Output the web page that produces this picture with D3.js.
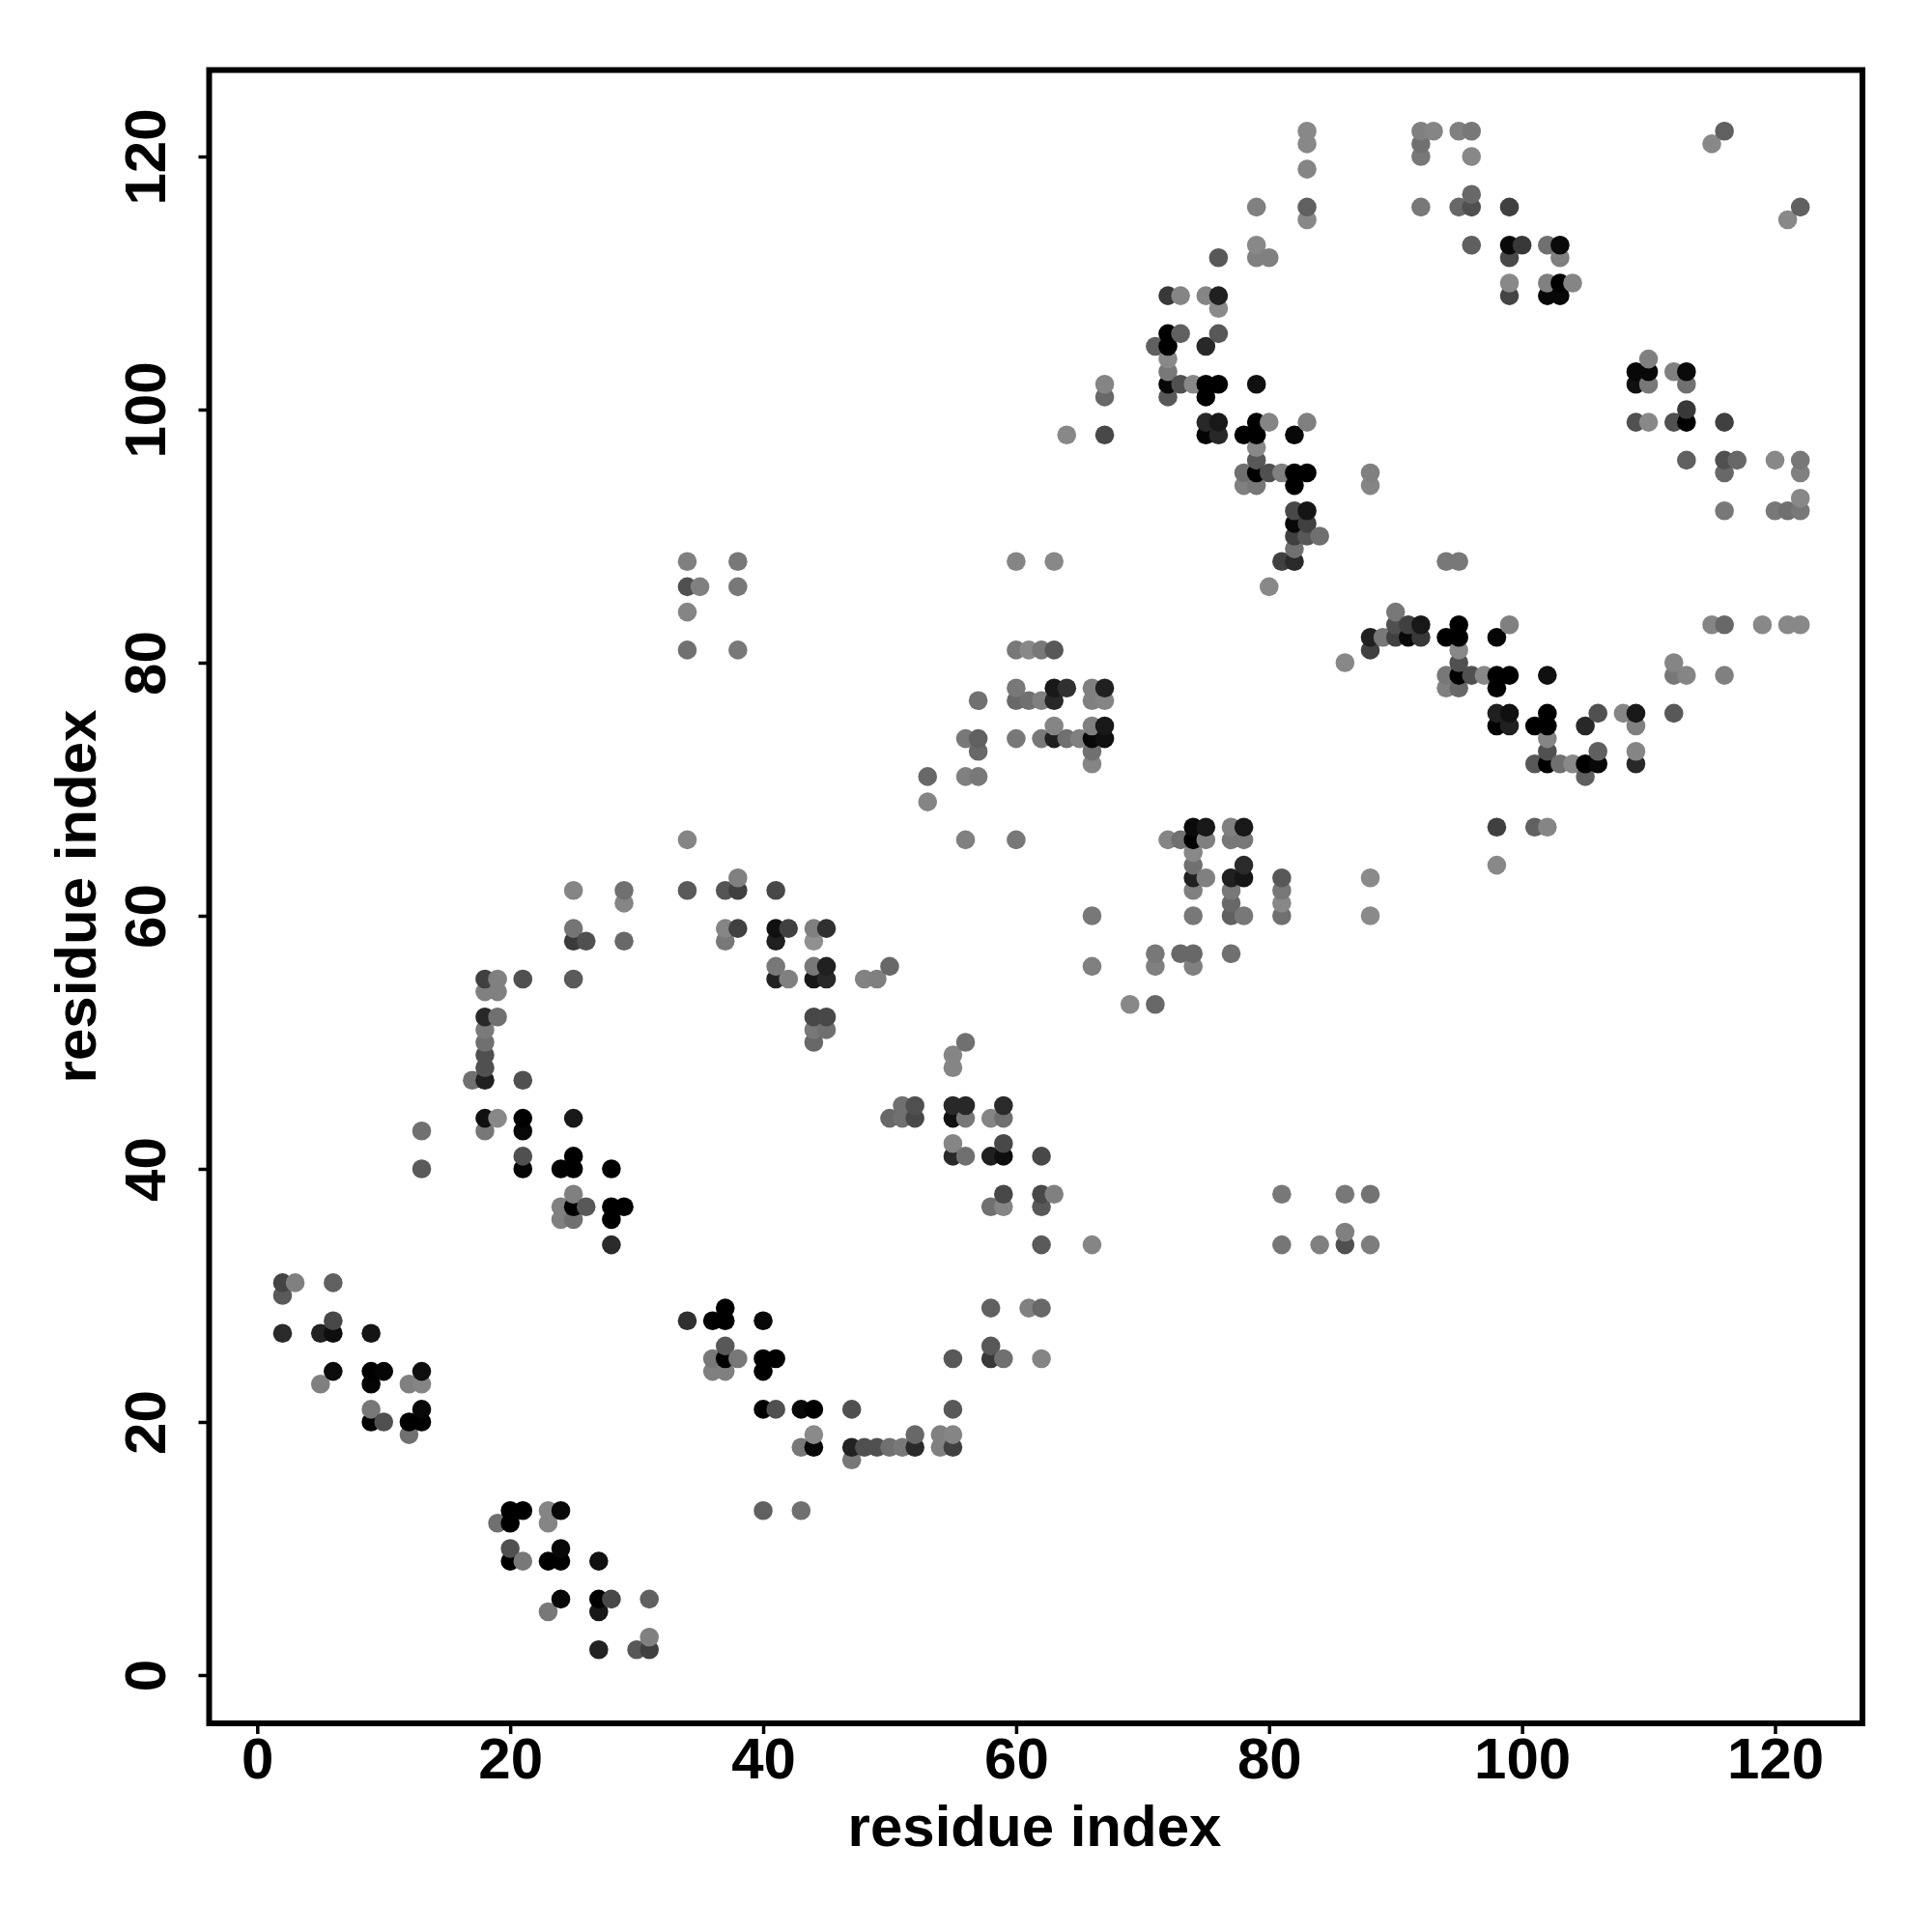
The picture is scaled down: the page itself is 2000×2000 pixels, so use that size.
<!DOCTYPE html>
<html>
<head>
<meta charset="utf-8">
<script src="https://cdn.jsdelivr.net/npm/d3@7"></script>
<style>html,body{margin:0;padding:0;background:#fff}svg{display:block}</style>
</head>
<body>
<svg id="chart" width="2000" height="2000"></svg>
<script>
const residueX = [
2,3,6,2,6,2,5,6,9,6, 5,9,10,9,13,12,13,9,13,9, 10,12,13,12,13,21,21,24,25,25,
28,25,24,25,26,24,25,28,29,28, 28,34,36,37,37,40,37,36,37,38, 36,37,40,41,40,40,41,20,21,20,
19,23,24,23,20,20,21,24,23,24, 27,24,23,27,28,27,31,31,27,30, 31,40,43,44,45,44,45,44,56,55,
55,51,52,50,51,52,55,56,55,56, 58,59,59,55,55,56,58,59,59,62, 59,58,59,62,63,62,62,66,58,61,
62,58,58,59,55,62,55,47,43,44, 44,43,44,47,48,49,50,51,52,52, 54,55,54,55,47,34,25,29,29,34,
37,38,38,41,25,25,26,29,37,38, 37,41,42,41,44,45,44,41,41,42, 44,45,44,45,48,49,50,18,19,18,
19,21,25,18,19,18,18,18,18,18, 17,21,18,19,18,21,21,25,13, 34,38,34,35,38,34,34,38,
81,86,88,81,84,86,86,88, 60,63,80,81,82,82,82,83,84,60, 61,62,63,60,63,64,66,67,57,60,
61,62,63,66,67,63,66,67,56,57, 60,62,63,64,65,66,67,57,66,66, 53,56,57,53,56,60,74,75,77,78,
72,73,74,75,77,78,74,74,78,74, 75,77,78,81,81,81,81,74,77,77, 77,78,74,66,71,73,74,77,71,74,
66,69,71,86, 83,83,83,79,83,83,92,93,95,96, 92,92,96,92,95,96,96,99,96,99,
100,99,102,79,79,80,76,72,73,75, 76,76,99,99,72,73,76,71,72,75, 72,72,67,67,72,73,74,75,76,75,
72,79,75,76,75,76,79,80,78,79, 82,83,64,67,79,79,78,79,80,81, 82,83,78,79,82,88,88,82,83,82,
83,94,95, 90,90,91,92,88,89,90,91,92,88, 95,94,95,95,95,94,95,96,97,98,
99,94,95,98,99,98,102,98,99,98, 99,101,102,102,102,102,101,103,104,105, 102,106,106,105,105,106,108,109,109,109,
109,112,112,112,113,116,115,116,119,121, 122,98,101,102,98,88,88,
116,115,122,121,103,103,102,103,104,102, 103,110,109,110,109,110,112,113,113,109,
110,112,113,113,116,113,116,117,116,120, 122,122,122,116,120,121,122
];
const residueY = [
31,31,31,30,28,27,27,27,27,24, 23,24,24,23,24,23,23,21,21,20, 20,20,20,19,40,40,41,40,40,41,
40,38,37,37,37,36,36,37,37,36, 34,28,28,28,29,28,26,25,25,25, 24,24,25,25,24,21,21,13,13,12,
12,13,13,12,10,9,9,10,9,9, 9,6,5,6,6,5,6,3,2,2, 2,13,13,52,52,51,51,50,50,49,
48,45,45,44,44,44,45,45,44,44, 44,44,45,42,41,41,41,41,42,41, 38,37,37,38,38,37,34,34,29,29,
29,26,25,25,25,25,21,21,21,21, 19,18,18,18,18,18,18,18,18,19, 19,19,18,18,17,66,62,62,61,62,
62,62,63,62,59,58,58,58,59,59, 58,59,59,58,59,59,58,56,55,55, 56,56,55,55,55,55,56,55,55,54,
54,55,55,52,52,51,50,49,48,47, 47,47,44,44,43,44,43,44,43, 88,88,86,86,86,84,81,81,
38,38,38,34,34,35,34,34, 88,88,86,88,88,89,90,90,90,81, 81,81,81,78,78,78,78,78,77,77,
77,77,77,77,77,75,75,75,74,74, 74,74,74,74,74,74,74,73,73,72, 71,71,71,69,66,66,67,67,67,67,
66,66,66,66,66,66,65,64,64,63, 63,63,63,63,62,61,60,62,62,61, 60,60,60,60,57,57,57,57,56,56,
56,53,53,80, 122,121,119,116,116,115,122,122,122,122, 121,120,120,116,116,116,117,116,113,113,
113,112,113,113,112,112,112,109,109,109, 109,108,110,109,106,106,106,105,105,105, 104,103,102,101,102,102,102,102,102,101,
101,102,99,99,98,98,99,99,98,98, 98,99,98,98,97,96,95,95,95,95, 95,95,94,94,94,95,94,92,92,91,
91,88,88, 84,83,83,83,82,82,82,82,82,81, 83,82,82,81,80,79,79,79,79,79,
79,78,78,78,83,82,79,76,76,75, 75,75,75,76,74,73,72,72,72,72, 72,72,73,71,75,76,76,76,75,73,
72,76,80,79,79,79,83,83,83,83, 83,67,67,67,64,63,60,
122,121,116,115,113,112,110,110,110,109, 109,104,103,103,102,102,103,103,102,99,
99,99,99,100,99,96,96,96,95,96, 96,95,93,92,92,92,92
];
const grayLevel = [
68,128,96,90,72,42,34,14,20,12, 128,0,5,5,14,128,133,120,8,0, 80,0,0,112,90,5,80,0,0,0,
0,128,128,0,88,128,112,0,0,0, 42,48,0,0,0,8,88,120,0,120, 128,128,0,0,0,0,80,0,0,0,
112,133,8,133,80,0,120,8,0,0, 16,8,120,0,72,24,96,128,34,88, 64,96,112,72,72,120,112,104,112,133,
133,112,80,104,112,72,40,40,16,120, 133,112,42,133,40,112,32,14,72,72, 72,112,133,72,128,88,90,133,96,128,
104,88,56,112,88,133,88,80,8,0, 138,120,8,34,80,80,112,120,42,104, 128,133,128,64,120,133,133,112,133,90,
85,64,128,72,117,58,80,104,133,64, 120,16,64,32,128,48,144,120,34,128, 120,32,24,40,130,128,104,64,128,128,
128,80,90,40,112,122,112,80,80,32, 112,80,16,136,120,0,8,24,112, 128,120,80,128,120,133,112,120,
120,120,115,118,128,128,80,125, 133,136,136,64,42,112,64,88,112,120, 136,120,88,120,24,48,128,32,112,104,
112,128,40,128,133,133,128,24,120,96, 120,120,32,112,128,8,16,104,112,133, 104,128,120,133,128,120,10,24,128,24,
133,112,0,128,120,120,136,112,42,32, 128,32,21,88,120,136,112,128,120,104, 96,120,120,120,120,104,104,112,128,128,
128,136,104,136, 136,136,133,128,96,136,128,133,128,120, 112,120,136,120,104,80,104,64,96,8,
56,72,112,136,128,128,88,56,133,133, 32,138,136,68,0,96,88,96,0,40, 136,120,133,104,8,80,136,0,0,0,
88,16,40,24,5,40,0,133,0,0, 8,128,136,72,136,88,112,0,80,128, 0,0,128,120,0,128,133,72,21,8,
64,120,120, 120,80,64,24,32,120,64,8,56,64, 0,0,0,136,80,120,0,80,136,0,
0,128,104,0,128,5,16,32,16,0, 32,0,0,0,133,80,88,112,136,0, 0,8,96,96,40,80,133,24,128,133,
40,88,133,120,133,128,133,104,136,136, 136,64,96,133,136,138,138,
96,136,96,136,10,128,128,0,133,8, 8,128,8,8,16,120,128,10,112,80,
136,80,0,56,64,96,80,104,104,136, 120,128,136,120,120,112,120
];
const xTickValues = [0, 20, 40, 60, 80, 100, 120];
const yTickValues = [0, 20, 40, 60, 80, 100, 120];
const xTitle = "residue index";
const yTitle = "residue index";

const FONT = '"Liberation Sans", Arial, Helvetica, sans-serif';
const box = {left: 216.5, right: 1928, top: 72.5, bottom: 1784};
const x = d3.scaleLinear().domain([0, 120]).range([266.3, 1837.5]);
const y = d3.scaleLinear().domain([0, 120]).range([1734, 162]);
const shade = d3.scaleLinear().domain([0, 255]).range(["#000000", "#ffffff"]);

const contacts = residueX
  .map((v, i) => ({x: v, y: residueY[i], g: grayLevel[i]}))
  .sort((a, b) => d3.ascending(a.x, b.x) || d3.ascending(a.y, b.y));

const svg = d3.select("#chart");
svg.append("rect").attr("width", 2000).attr("height", 2000).attr("fill", "#fff");

svg.append("g").selectAll("circle").data(contacts).join("circle")
  .attr("cx", d => x(d.x))
  .attr("cy", d => y(d.y))
  .attr("r", 9.8)
  .attr("fill", d => shade(d.g));

svg.append("rect")
  .attr("x", box.left).attr("y", box.top)
  .attr("width", box.right - box.left).attr("height", box.bottom - box.top)
  .attr("fill", "none").attr("stroke", "#000").attr("stroke-width", 6);

const gx = svg.append("g").attr("transform", `translate(0,${box.bottom})`)
  .call(d3.axisBottom(x).tickValues(xTickValues).tickSize(11).tickPadding(11).tickFormat(d3.format("d")));
const gy = svg.append("g").attr("transform", `translate(${box.left},0)`)
  .call(d3.axisLeft(y).tickValues(yTickValues).tickSize(11).tickPadding(0).tickFormat(d3.format("d")));

[gx, gy].forEach(g => {
  g.select(".domain").remove();
  g.selectAll("line").attr("stroke", "#000").attr("stroke-width", 3.5);
  g.selectAll("text").attr("font-family", FONT).attr("font-weight", 700)
    .attr("font-size", 60).attr("fill", "#000");
});
gx.selectAll("text").attr("dy", null).attr("y", null)
  .attr("dominant-baseline", "auto").attr("transform", "translate(0,57)").attr("text-anchor", "middle");
gy.selectAll("text").attr("x", null).attr("dy", null)
  .attr("text-anchor", "middle").attr("transform", "translate(-46,0) rotate(-90)");

svg.append("text").text(xTitle)
  .attr("x", 1071).attr("y", 1911).attr("text-anchor", "middle")
  .attr("font-family", FONT).attr("font-weight", 700).attr("font-size", 60).attr("fill", "#000");
svg.append("text").text(yTitle)
  .attr("transform", "translate(99,928) rotate(-90)").attr("text-anchor", "middle")
  .attr("font-family", FONT).attr("font-weight", 700).attr("font-size", 60).attr("fill", "#000");
</script>
</body>
</html>
